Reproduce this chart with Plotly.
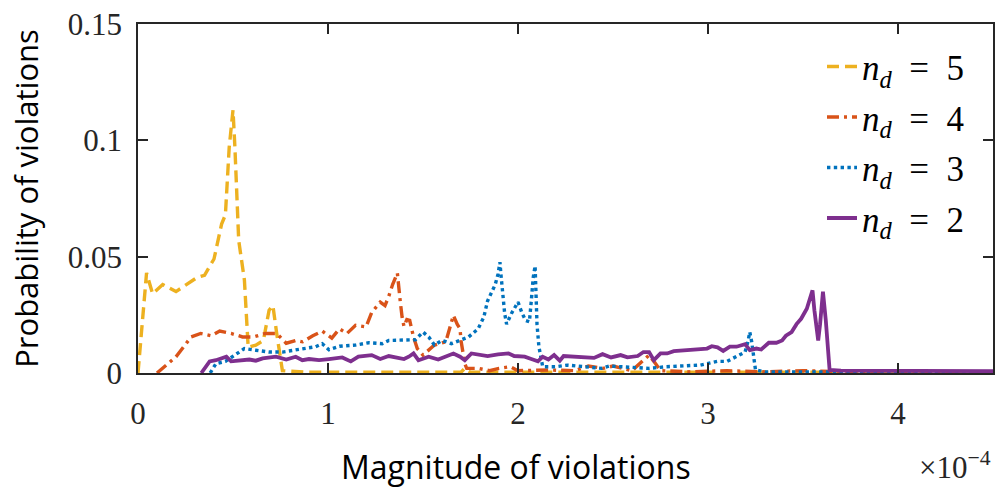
import plotly.graph_objects as go

# x values in units of 1e-4
x_nd5 = [0, 0.03, 0.045, 0.077, 0.13, 0.20, 0.235, 0.31, 0.35, 0.40, 0.44, 0.46, 0.48, 0.50, 0.51,
         0.53, 0.56, 0.58, 0.62, 0.66, 0.69, 0.71, 0.73, 0.76, 0.9, 1.1, 1.3, 1.5, 1.7, 1.72, 1.75,
         2.0, 2.3, 2.6, 2.9, 3.2, 3.5, 3.8, 4.1, 4.5]
y_nd5 = [0, 0.030, 0.043, 0.034, 0.038, 0.035, 0.037, 0.041, 0.042, 0.049, 0.064, 0.068, 0.097, 0.113, 0.097,
         0.057, 0.040, 0.011, 0.012, 0.014, 0.027, 0.029, 0.017, 0.001, 0.0003, 0.0003, 0.0003, 0.0003, 0.0003, 0.002, 0.0003,
         0.0003, 0.0003, 0.0003, 0.0003, 0.0003, 0.0003, 0.0003, 0.0003, 0.0003]

x_nd4 = [0.10, 0.20, 0.28, 0.33, 0.385, 0.43, 0.49, 0.55, 0.61, 0.67, 0.73, 0.78, 0.83, 0.866, 0.92, 0.97,
         1.02, 1.06, 1.10, 1.145, 1.20, 1.23, 1.275, 1.30, 1.32, 1.34, 1.365, 1.37, 1.38, 1.39, 1.40, 1.415,
         1.43, 1.45, 1.47, 1.50, 1.56, 1.62, 1.64, 1.66, 1.68, 1.695, 1.70, 1.72, 1.73, 1.79, 1.85, 1.90,
         1.96, 2.0, 2.16, 2.3, 2.37, 2.45, 2.50, 2.6, 2.66, 2.69, 2.715, 2.75, 2.9, 3.1, 3.3, 3.5, 3.7,
         4.0, 4.5]
y_nd4 = [0, 0.007, 0.0155, 0.017, 0.016, 0.018, 0.017, 0.0155, 0.0155, 0.017, 0.017, 0.0128, 0.014, 0.0134, 0.016, 0.018,
         0.015, 0.019, 0.017, 0.0205, 0.0198, 0.026, 0.0305, 0.029, 0.033, 0.038, 0.043, 0.038, 0.031, 0.024, 0.020, 0.023,
         0.0226, 0.0155, 0.0105, 0.0077, 0.012, 0.0134, 0.0198, 0.0248, 0.021, 0.019, 0.014, 0.004, 0.002, 0.002, 0.001, 0.002,
         0.0027, 0.001, 0.0013, 0.001, 0.003, 0.002, 0.003, 0.001, 0.0055, 0.0077, 0.005, 0.001, 0.0005, 0.001, 0.0005, 0.001, 0.0005,
         0.0005, 0.0005]

x_nd3 = [0.38, 0.41, 0.46, 0.52, 0.56, 0.62, 0.69, 0.76, 0.83, 0.88, 0.935, 0.97, 1.005, 1.06, 1.145, 1.215,
         1.285, 1.32, 1.39, 1.46, 1.50, 1.53, 1.56, 1.60, 1.65, 1.69, 1.74, 1.79, 1.82, 1.84, 1.88, 1.895,
         1.905, 1.91, 1.92, 1.93, 1.94, 1.965, 2.0, 2.02, 2.04, 2.06, 2.07, 2.08, 2.09, 2.095, 2.10, 2.11,
         2.13, 2.2, 2.26, 2.35, 2.44, 2.48, 2.54, 2.6, 2.69, 2.78, 2.87, 2.96, 2.995, 3.05, 3.10, 3.15,
         3.195, 3.21, 3.22, 3.23, 3.24, 3.25, 3.3, 3.6, 3.9, 4.2, 4.5]
y_nd3 = [0, 0.004, 0.005, 0.0084, 0.0105, 0.0098, 0.009, 0.009, 0.0098, 0.0105, 0.0113, 0.0126, 0.010, 0.0115, 0.012, 0.013,
         0.0126, 0.014, 0.0143, 0.0143, 0.0176, 0.0155, 0.012, 0.014, 0.0126, 0.014, 0.0155, 0.019, 0.024, 0.031, 0.038, 0.0425,
         0.0476, 0.0425, 0.034, 0.0255, 0.021, 0.0255, 0.0305, 0.026, 0.0226, 0.022, 0.031, 0.041, 0.046, 0.0355, 0.021, 0.0113,
         0.0027, 0.0027, 0.0034, 0.0027, 0.002, 0.003, 0.0027, 0.0027, 0.002, 0.0027, 0.003, 0.0034, 0.004, 0.005, 0.005, 0.007,
         0.009, 0.0134, 0.0176, 0.0134, 0.007, 0.0013, 0.0005, 0.0005, 0.0005, 0.0005, 0.0005]

x_nd2 = [0.333, 0.377, 0.41, 0.465, 0.49, 0.53, 0.586, 0.62, 0.656, 0.726, 0.78, 0.83, 0.865, 0.90, 0.953,
         1.005, 1.075, 1.12, 1.16, 1.23, 1.275, 1.32, 1.355, 1.40, 1.425, 1.45, 1.476, 1.53, 1.58, 1.62,
         1.66, 1.695, 1.72, 1.755, 1.81, 1.84, 1.895, 1.95, 1.98, 2.035, 2.07, 2.105, 2.13, 2.16, 2.19,
         2.22, 2.24, 2.33, 2.40, 2.445, 2.49, 2.54, 2.576, 2.63, 2.66, 2.69, 2.715, 2.75, 2.785, 2.82,
         2.89, 2.94, 2.995, 3.02, 3.05, 3.08, 3.115, 3.15, 3.195, 3.22, 3.255, 3.28, 3.32, 3.36, 3.39,
         3.41, 3.44, 3.466, 3.49, 3.52, 3.535, 3.55, 3.56, 3.58, 3.59, 3.605, 3.62, 3.63, 3.64, 3.7,
         4.0, 4.3, 4.5]
y_nd2 = [0, 0.005, 0.0055, 0.007, 0.005, 0.0055, 0.0058, 0.0053, 0.0063, 0.007, 0.0058, 0.007, 0.0055, 0.006, 0.0055,
         0.006, 0.0067, 0.005, 0.007, 0.0077, 0.006, 0.0073, 0.0067, 0.006, 0.007, 0.0084, 0.0055, 0.007, 0.0058, 0.007,
         0.0084, 0.007, 0.0055, 0.0084, 0.0077, 0.0073, 0.008, 0.0084, 0.0073, 0.007, 0.006, 0.005, 0.007, 0.0058, 0.0077,
         0.0053, 0.0073, 0.0067, 0.0065, 0.0081, 0.0067, 0.0077, 0.0067, 0.0073, 0.009, 0.009, 0.0055, 0.0084, 0.0084, 0.0094,
         0.0098, 0.0101, 0.0105, 0.0115, 0.011, 0.0095, 0.0113, 0.0113, 0.0124, 0.0098, 0.0105, 0.0101, 0.013, 0.013, 0.014,
         0.016, 0.0176, 0.021, 0.0233, 0.0276, 0.031, 0.0355, 0.027, 0.014, 0.021, 0.035, 0.0226, 0.0098, 0.0013, 0.001,
         0.0008, 0.0008, 0.0008]

series_names = ["<i>n</i><sub><i>d</i></sub>\u2002=\u20025", "<i>n</i><sub><i>d</i></sub>\u2002=\u20024",
                "<i>n</i><sub><i>d</i></sub>\u2002=\u20023", "<i>n</i><sub><i>d</i></sub>\u2002=\u20022"]
series_colors = ["#EDB120", "#D95319", "#0072BD", "#7E2F8E"]
series_dash = ["12px,6px", "12px,5px,3px,5px", "dot", "solid"]
series_width = [3.4, 3.4, 3.4, 3.8]

x_ticks = [0, 1, 2, 3, 4]
y_ticks = [0, 0.05, 0.1, 0.15]
y_tick_labels = ["0", "0.05", "0.1", "0.15"]

fig = go.Figure()
for i, (xs, ys) in enumerate([(x_nd5, y_nd5), (x_nd4, y_nd4), (x_nd3, y_nd3), (x_nd2, y_nd2)]):
    fig.add_trace(go.Scatter(x=xs, y=ys, mode="lines", name=series_names[i], legendgroup=str(i),
                             line=dict(color=series_colors[i], dash=series_dash[i],
                                       width=series_width[i])))

axis_col = "#262626"
serif = "Liberation Serif"
sans = "Open Sans"
fig.update_layout(
    width=998, height=487,
    margin=dict(l=138, r=3, t=24, b=114),
    plot_bgcolor="white", paper_bgcolor="white",
    showlegend=True,
    legend=dict(x=0.80, y=0.962, xanchor="left", yanchor="top", bgcolor="rgba(0,0,0,0)",
                font=dict(family=serif, size=35, color="#000000"), tracegroupgap=2,
                itemwidth=30),
    xaxis=dict(range=[0, 4.5], tickvals=x_ticks, ticktext=[str(t) for t in x_ticks],
               ticks="inside", ticklen=10, tickwidth=1.5, tickcolor=axis_col,
               showline=True, linecolor=axis_col, linewidth=1.5, mirror="ticks",
               showgrid=False, zeroline=False, ticklabelstandoff=12,
               tickfont=dict(family=serif, size=31, color=axis_col)),
    yaxis=dict(range=[0, 0.15], tickvals=y_ticks, ticktext=y_tick_labels,
               ticks="inside", ticklen=10, tickwidth=1.5, tickcolor=axis_col,
               showline=True, linecolor=axis_col, linewidth=1.5, mirror="ticks",
               showgrid=False, zeroline=False, ticklabelstandoff=8,
               tickfont=dict(family=serif, size=31, color=axis_col),
               title=dict(text="Probability of violations", font=dict(family=sans, size=31, color="#000000"),
                          standoff=20)),
    annotations=[
        dict(text="Magnitude of violations", xref="paper", yref="paper", x=0.442, y=-0.268,
             xanchor="center", yanchor="middle", showarrow=False,
             font=dict(family=sans, size=32, color="#000000")),
        dict(text="×10<sup>−4</sup>", xref="paper", yref="paper", x=1.0, y=-0.265,
             xanchor="right", yanchor="middle", showarrow=False,
             font=dict(family=serif, size=31, color=axis_col)),
    ],
)

fig.write_html("out.html")
